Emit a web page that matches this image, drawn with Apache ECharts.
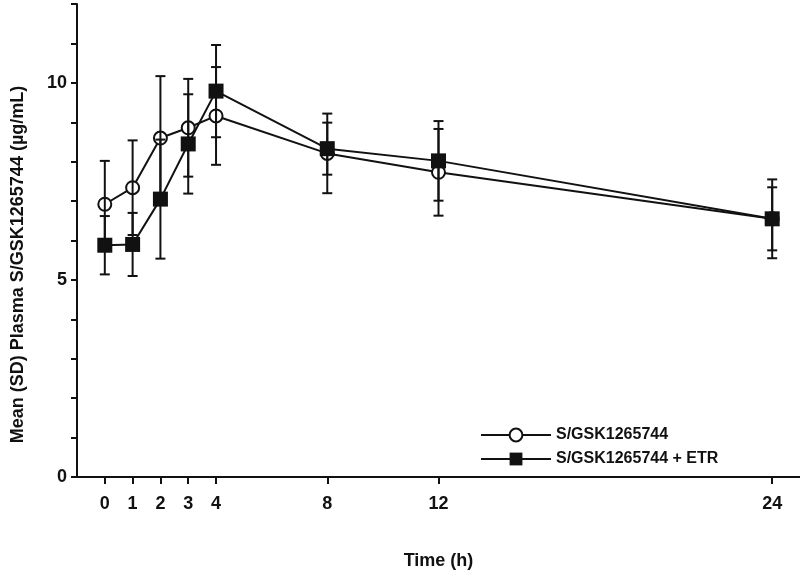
<!DOCTYPE html>
<html><head><meta charset="utf-8">
<script src="https://cdn.jsdelivr.net/npm/echarts@6/dist/echarts.min.js"></script>
<style>html,body{margin:0;padding:0;background:#fff}#c{width:800px;height:575px}</style>
</head><body><div id="c"></div>
<script>
const hours = [0, 1, 2, 3, 4, 8, 12, 24];
const xTicks = [0, 1, 2, 3, 4, 8, 12, 24];
const yLabels = [0, 5, 10];
const seriesNames = ['S/GSK1265744', 'S/GSK1265744 + ETR'];
const meanA = [6.92, 7.34, 8.60, 8.86, 9.16, 8.21, 7.73, 6.55];
const sdA   = [1.10, 1.20, 1.57, 1.24, 1.24, 1.01, 1.10, 0.80];
const meanB = [5.88, 5.90, 7.05, 8.45, 9.79, 8.33, 8.02, 6.55];
const sdB   = [0.74, 0.80, 1.51, 1.26, 1.17, 0.66, 1.01, 1.00];

const font = 'Liberation Sans, Arial, sans-serif';
const chart = echarts.init(document.getElementById('c'));

function errData(means, sds) {
  return hours.map((h, i) => [h, means[i] - sds[i], means[i] + sds[i]]);
}
function errSeries(means, sds, z) {
  return {
    type: 'custom', z: z, silent: true,
    data: errData(means, sds),
    encode: { x: 0, y: [1, 2] },
    renderItem: function (params, api) {
      const x = api.value(0);
      const lo = api.coord([x, api.value(1)]);
      const hi = api.coord([x, api.value(2)]);
      const hw = 5;
      const st = { stroke: '#111', lineWidth: 2 };
      return {
        type: 'group',
        children: [
          { type: 'line', shape: { x1: lo[0], y1: lo[1], x2: hi[0], y2: hi[1] }, style: st },
          { type: 'line', shape: { x1: lo[0] - hw, y1: lo[1], x2: lo[0] + hw, y2: lo[1] }, style: st },
          { type: 'line', shape: { x1: hi[0] - hw, y1: hi[1], x2: hi[0] + hw, y2: hi[1] }, style: st }
        ]
      };
    }
  };
}

chart.setOption({
  animation: false,
  backgroundColor: '#fff',
  grid: { left: 77, right: 0, top: 4, bottom: 97 },
  legend: {
    left: 475, top: 422, orient: 'vertical', itemGap: 8,
    itemWidth: 70, itemHeight: 16,
    textStyle: { fontFamily: font, fontWeight: 'bold', fontSize: 16, color: '#111' },
    data: seriesNames
  },
  xAxis: {
    type: 'value', min: -1, max: 25,
    name: 'Time (h)', nameLocation: 'middle', nameGap: 75,
    nameTextStyle: { fontFamily: font, fontWeight: 'bold', fontSize: 18, color: '#111' },
    axisLine: { onZero: false, lineStyle: { color: '#111', width: 2 } },
    axisTick: { show: true, customValues: xTicks, length: 7, lineStyle: { color: '#111', width: 2 } },
    axisLabel: { customValues: xTicks, margin: 18, fontFamily: font, fontWeight: 'bold', fontSize: 18, color: '#111' },
    splitLine: { show: false }
  },
  yAxis: {
    type: 'value', min: 0, max: 12, interval: 1,
    name: 'Mean (SD) Plasma S/GSK1265744 (µg/mL)', nameLocation: 'middle', nameGap: 50,
    nameTextStyle: { fontFamily: font, fontWeight: 'bold', fontSize: 18, color: '#111', padding: [0, 48, 0, 0] },
    axisLine: { show: true, onZero: false, lineStyle: { color: '#111', width: 2 } },
    axisTick: { show: true, length: 6, lineStyle: { color: '#111', width: 2 } },
    axisLabel: {
      margin: 10, fontFamily: font, fontWeight: 'bold', fontSize: 18, color: '#111',
      formatter: function (v) { return yLabels.indexOf(v) >= 0 ? String(v) : ''; }
    },
    splitLine: { show: false }
  },
  series: [
    {
      name: seriesNames[0], type: 'line', z: 2,
      data: hours.map((h, i) => [h, meanA[i]]),
      symbol: 'circle', symbolSize: 13,
      lineStyle: { color: '#111', width: 2 },
      itemStyle: { color: '#fff', borderColor: '#111', borderWidth: 2 }
    },
    errSeries(meanA, sdA, 3),
    errSeries(meanB, sdB, 3),
    {
      name: seriesNames[1], type: 'line', z: 4,
      data: hours.map((h, i) => [h, meanB[i]]),
      symbol: 'rect', symbolSize: 15,
      lineStyle: { color: '#111', width: 2 },
      itemStyle: { color: '#111', borderColor: '#111', borderWidth: 0 }
    }
  ]
});
</script></body></html>
